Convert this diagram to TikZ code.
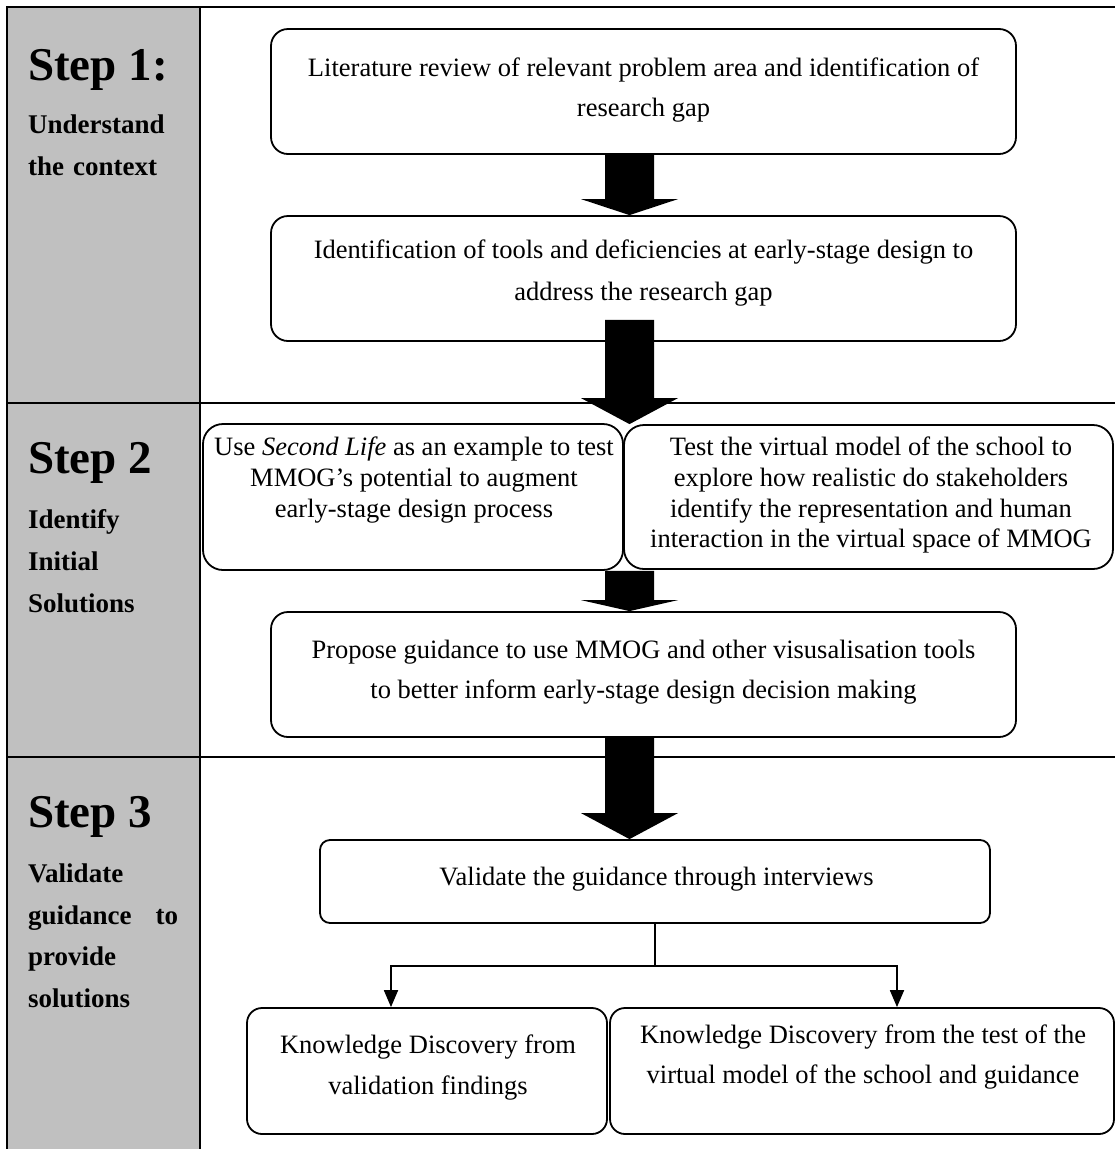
\documentclass[tikz,border=0pt]{standalone}
\usepackage{fontspec}
\setmainfont{Liberation Serif}
\usetikzlibrary{calc,arrows.meta}
\definecolor{stepgray}{RGB}{192,192,192}
\tikzset{
  frameline/.style={line width=2pt},
  box/.style={draw, line width=1.8pt, inner sep=0pt},
  btext/.style={anchor=north, align=center, inner sep=0pt, font=\fontsize{26.5}{#1}\selectfont},
  steptitle/.style={anchor=base west, inner sep=0pt, font=\fontsize{47}{47}\selectfont\bfseries},
  stepsub/.style={anchor=north west, inner sep=0pt, text width=150pt, align=left, font=\fontsize{27}{41.7}\selectfont\bfseries},
  conn/.style={line width=1.8pt},
  arr/.style={conn, -{Triangle[length=17pt,width=14pt]}},
}
\newcommand\blockarrow[3]{%
  \fill let \p1=(#1), \p2=(#2) in
    (\x1-24.5pt,\y1) -- (\x1+24.5pt,\y1) -- (\x1+24.5pt,\y2+#3) -- (\x1+48.5pt,\y2+#3)
    -- (\x2,\y2) -- (\x1-48.5pt,\y2+#3) -- (\x1-24.5pt,\y2+#3) -- cycle;}
\begin{document}
\begin{tikzpicture}[x=1pt,y=-1pt]
\useasboundingbox (0,0) rectangle (1115,1149);
% frame
\fill[stepgray] (7,7) rectangle (200,1149);
\draw[frameline] (7,1149) -- (7,7) -- (1115,7);
\draw[frameline] (200,7) -- (200,1149);
\draw[frameline] (7,403) -- (1115,403);
\draw[frameline] (7,757) -- (1115,757);
% step labels
\node[steptitle] (st1) at (28,80) {Step 1:};
\node[stepsub] (ss1) at (28,114.6) {Understand\\the context};
\node[steptitle] (st2) at (28,473) {Step 2};
\node[stepsub] (ss2) at (28,509.6) {Identify\\Initial\\Solutions};
\node[steptitle] (st3) at (28,827) {Step 3};
\node[stepsub] (ss3) at (28,863.6) {Validate\\guidance\hfill to\\provide\\solutions};
% boxes
\node[box, rounded corners=17pt, minimum width=745pt, minimum height=125pt] (b1) at (643.5,91.5) {};
\node[box, rounded corners=17pt, minimum width=745pt, minimum height=125pt] (b2) at (643.5,278.5) {};
\node[box, rounded corners=20pt, minimum width=420pt, minimum height=146pt] (s2l) at (413,497) {};
\node[box, rounded corners=20pt, minimum width=489pt, minimum height=144pt] (s2r) at (868.5,497) {};
\node[box, rounded corners=17pt, minimum width=745pt, minimum height=125pt] (b3) at (643.5,674.5) {};
\node[box, rounded corners=10pt, minimum width=670pt, minimum height=83pt] (b4) at (655,881.5) {};
\node[box, rounded corners=15pt, minimum width=360pt, minimum height=126pt] (k1) at (427,1071) {};
\node[box, rounded corners=15pt, minimum width=504pt, minimum height=126pt] (k2) at (862,1071) {};
% block arrows
\coordinate (ax) at (629.5,0);
\blockarrow{ax |- b1.south}{ax |- b2.north}{16pt}
\blockarrow{$(ax |- b2.south)+(0,-22)$}{ax |- s2r.north}{26pt}
\blockarrow{ax |- s2l.south}{ax |- b3.north}{11pt}
\blockarrow{ax |- b3.south}{ax |- b4.north}{26pt}
% texts
\node[btext=40] (t1) at (643.5,58) {Literature review of relevant problem area and identification of\\research gap};
\node[btext=42] (t2) at (643.5,240) {Identification of tools and deficiencies at early-stage design to\\address the research gap};
\node[btext=31] (t2l) at (414,437) {Use \textit{Second Life} as an example to test\\MMOG’s potential to augment\\early-stage design process};
\node[btext=30.7] (t2r) at (871,437) {Test the virtual model of the school to\\explore how realistic do stakeholders\\identify the representation and human\\interaction in the virtual space of MMOG};
\node[btext=40] (t3) at (643.5,640) {Propose guidance to use MMOG and other visusalisation tools\\to better inform early-stage design decision making};
\node[btext=40] (t4) at (656.5,867) {Validate the guidance through interviews};
\node[btext=41] (tk1) at (428,1035) {Knowledge Discovery from\\validation findings};
\node[btext=40] (tk2) at (863,1025) {Knowledge Discovery from the test of the\\virtual model of the school and guidance};
% connectors
\coordinate (jl) at (391,966);
\coordinate (jr) at (897,966);
\draw[arr] (b4.south) |- (jl) -- (jl |- k1.north);
\draw[arr] (b4.south |- jl) -- (jr) -- (jr |- k2.north);
\end{tikzpicture}
\end{document}
